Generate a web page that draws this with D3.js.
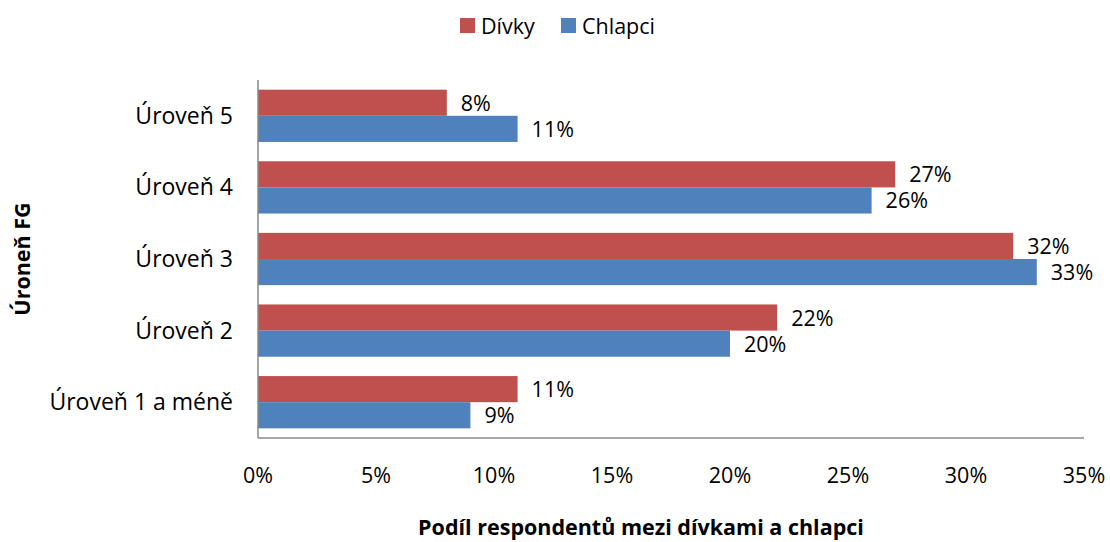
<!DOCTYPE html>
<html>
<head>
<meta charset="utf-8">
<script src="https://cdn.jsdelivr.net/npm/d3@7"></script>
<style>
body { margin: 0; background: #fff; }
text { font-family: "Open Sans", "Noto Sans", sans-serif; fill: #000; }
</style>
</head>
<body>
<svg id="chart" width="1110" height="542"></svg>
<script>
// data
var levels = ["Úroveň 5", "Úroveň 4", "Úroveň 3", "Úroveň 2", "Úroveň 1 a méně"];
var girls = [8, 27, 32, 22, 11];
var boys = [11, 26, 33, 20, 9];
var seriesNames = ["Dívky", "Chlapci"];
var seriesColors = ["#C0504D", "#4F81BD"];
var xTicks = [0, 5, 10, 15, 20, 25, 30, 35];

var svg = d3.select("#chart");
var plotLeft = 258, plotRight = 1084, plotTop = 80, plotBottom = 438;
var fs = 21.5;

var x = d3.scaleLinear().domain([0, 35]).range([plotLeft, plotRight]);
var y = d3.scaleBand().domain(levels).range([plotTop, plotBottom]).paddingInner(0.27).paddingOuter(0.135);
var sub = d3.scaleBand().domain(seriesNames).range([0, y.bandwidth()]);

// bars
var series = [girls, boys];
series.forEach(function (vals, s) {
	levels.forEach(function (lv, i) {
		svg.append("rect")
		.attr("x", x(0))
		.attr("y", y(lv) + sub(seriesNames[s]))
		.attr("width", x(vals[i]) - x(0))
		.attr("height", sub.bandwidth())
		.style("fill", seriesColors[s]);
		svg.append("text")
		.text(vals[i] + "%")
		.attr("x", x(vals[i]) + 14)
		.attr("y", y(lv) + sub(seriesNames[s]) + sub.bandwidth() / 2 + 8)
		.attr("font-size", fs);
	});
});

// axes lines
svg.append("line")
.style("stroke", "#898989").style("stroke-width", 1.5)
.attr("x1", plotLeft).attr("y1", plotTop).attr("x2", plotLeft).attr("y2", plotBottom);
svg.append("line")
.style("stroke", "#898989").style("stroke-width", 1.5)
.attr("x1", plotLeft).attr("y1", plotBottom).attr("x2", plotRight).attr("y2", plotBottom);

// x tick labels
xTicks.forEach(function (t) {
	svg.append("text")
	.text(t + "%")
	.attr("x", x(t))
	.attr("y", 483)
	.attr("text-anchor", "middle")
	.attr("font-size", fs);
});

// category labels
levels.forEach(function (lv) {
	svg.append("text")
	.text(lv)
	.attr("x", 233)
	.attr("y", y(lv) + y.bandwidth() / 2 + 8)
	.attr("text-anchor", "end")
	.attr("font-size", 23);
});

// axis titles
svg.append("text")
.text("Podíl respondentů mezi dívkami a chlapci")
.attr("x", 641)
.attr("y", 535)
.attr("text-anchor", "middle")
.attr("font-size", 21.5)
.attr("font-weight", "bold");
svg.append("text")
.text("Úroneň FG")
.attr("transform", "translate(30,259) rotate(-90)")
.attr("text-anchor", "middle")
.attr("font-size", 21.5)
.attr("font-weight", "bold");

// legend
var legendX = [460, 561];
seriesNames.forEach(function (n, i) {
	svg.append("rect")
	.attr("x", legendX[i]).attr("y", 18)
	.attr("width", 15).attr("height", 15)
	.style("fill", seriesColors[i]);
	svg.append("text")
	.text(n)
	.attr("x", legendX[i] + 21)
	.attr("y", 34)
	.attr("font-size", fs);
});
</script>
</body>
</html>
